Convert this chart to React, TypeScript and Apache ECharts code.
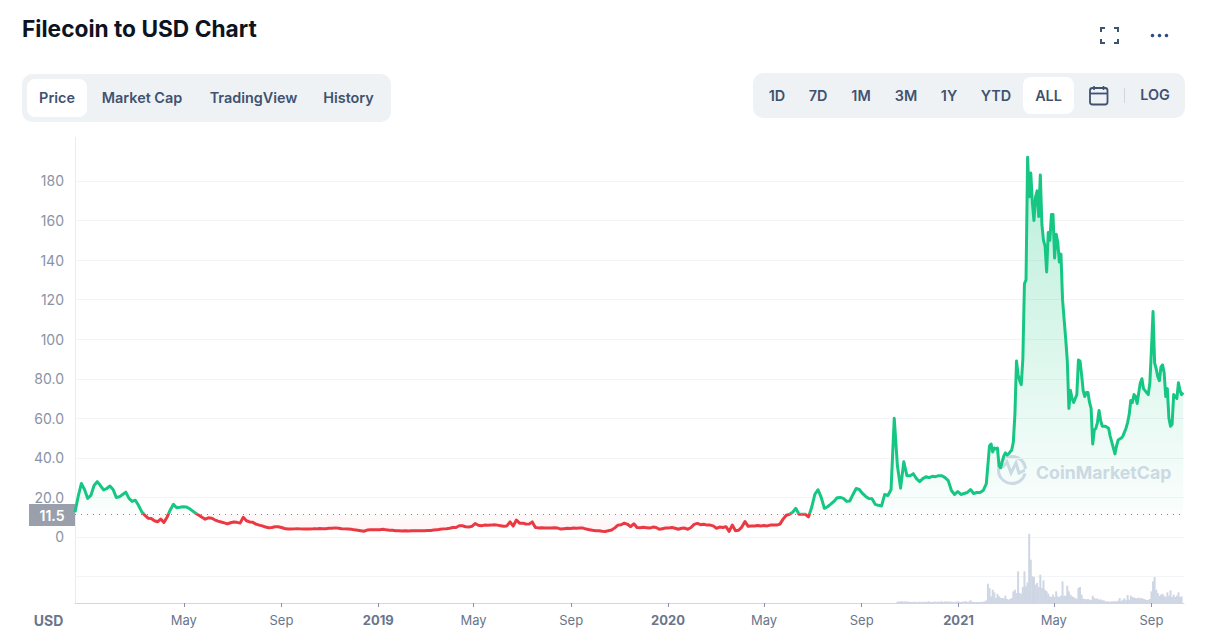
import React, { useEffect, useRef } from "react";
import * as echarts from "echarts";

const title = "Filecoin to USD Chart";
const leftTabs = ["Price", "Market Cap", "TradingView", "History"];
const rightTabs = ["1D", "7D", "1M", "3M", "1Y", "YTD", "ALL"];
const baselineValue = 11.5;
const xTickDates = ["2018-05-01", "2018-09-01", "2019-01-01", "2019-05-01", "2019-09-01", "2020-01-01", "2020-05-01", "2020-09-01", "2021-01-01", "2021-05-01", "2021-09-01"];
const xTickLabels = ["May", "Sep", "{b|2019}", "May", "Sep", "{b|2020}", "May", "Sep", "{b|2021}", "May", "Sep"];
const firstDate = "2017-12-15";
const lastDate = "2021-10-12";
const earlyStepDays = 4;
const lateStepDays = 2;
const lateStartDay = 1152;
const volumeStartDay = 1036;

// Price, every 4 days from the first date
const earlyPrices = [
  12.5, 20.5, 27, 24, 19.5, 21, 26, 28, 26, 23.8,
  24.5, 25.8, 24, 20, 20.3, 21.5, 22.7, 19.5, 18, 18.6,
  16, 12.8, 11, 9.5, 9.3, 8.2, 7.7, 9, 7.4, 10,
  13.7, 16.5, 14.8, 15, 15.3, 15.2, 14.4, 13.2, 12, 11,
  10, 9, 9.7, 9.5, 8.7, 8, 7.6, 7.1, 6.6, 7.2,
  7.6, 7.4, 7, 10, 8.2, 7.6, 7.4, 6.5, 6, 5.6,
  5, 4.7, 4.8, 5.2, 5.2, 4.8, 4.3, 4, 4, 4.1,
  4.2, 4.1, 4, 4.1, 4, 4.1, 4.1, 4.3, 4.2, 4.2,
  4.4, 4.4, 4.6, 4.4, 4.2, 4.1, 4, 3.9, 3.6, 3.4,
  3.2, 2.9, 3.5, 3.6, 3.6, 3.7, 3.7, 3.9, 3.6, 3.4,
  3.4, 3.2, 3.2, 3, 3.1, 3, 3.1, 3.2, 3.1, 3.2,
  3.2, 3.3, 3.3, 3.5, 3.6, 3.9, 4.1, 4.2, 4.4, 4.8,
  4.8, 5.7, 5.7, 5.2, 5, 5.4, 6.8, 5.9, 5.7, 6,
  5.9, 6, 6.2, 6, 5.7, 5.4, 5.6, 7.6, 5.5, 8.6,
  7, 7, 6.6, 6.5, 7.6, 4.8, 4.6, 4.7, 4.5, 4.6,
  4.6, 4.7, 4.5, 4, 4.2, 4.4, 4.3, 4.5, 4.4, 4.5,
  4.5, 4, 3.7, 3.4, 3.2, 3.2, 2.9, 2.8, 3.2, 3.5,
  4.6, 6, 6.2, 7, 6.4, 5.2, 6.7, 4.8, 4.7, 4.9,
  4.7, 4.5, 5, 4.8, 3.9, 4.2, 4.5, 4.6, 4.8, 4.4,
  3.9, 4.4, 4.5, 3.9, 4.8, 6.4, 6.9, 6.2, 6.4, 6,
  6, 5.6, 4.4, 5, 4.8, 5.2, 2.8, 6, 3.2, 3.4,
  5, 7.8, 5.4, 5.6, 5.6, 5.8, 5.6, 5.8, 5.6, 6,
  6, 6, 6.5, 9, 11, 11.5, 12.5, 14.5, 11.5, 11.5,
  11.5, 10.2, 15, 21.6, 23.9, 20, 14.5, 15.3, 16.6, 18,
  19.8, 20, 19.5, 18, 18.2, 21.5, 24.5, 24, 22, 20.5,
  19.5, 19.3, 16.5, 16, 15.7, 21.5, 21, 24, 60, 36,
  24.7, 38, 31, 31, 32, 29.5, 28, 29.5, 30.5, 30,
  30.7, 30.5, 31, 31, 30, 28.5, 23.5, 21.5, 23, 21.5,
  22, 22.5, 24, 22, 22.5, 22.5, 23.5, 27, 46,
];

// Price, every 2 days after the early run
const latePrices = [
  47, 43, 45, 44.5, 45, 36, 35, 38, 41, 42.5,
  41.5, 42, 43, 44, 48, 62, 89, 82, 79, 77,
  90, 128, 130, 192, 172, 184, 169, 160, 172, 175,
  162, 183, 158, 150, 147, 134, 154, 150, 163, 163,
  141, 153, 149, 139, 143, 120, 110, 100, 89, 65,
  74, 70, 68, 70, 72, 89.5, 89, 82, 74, 71,
  73, 73, 68, 65, 47, 54, 55, 58, 64, 59,
  56, 56, 56, 55.5, 55, 51, 48, 45, 42, 46,
  49, 49.5, 50, 51, 53, 55, 58, 62, 69, 68,
  72, 71, 67.5, 73, 78, 80, 75, 74, 73, 72,
  78, 95, 114, 88, 85, 81, 79, 86, 87, 83,
  71, 75, 60, 56, 57, 72, 71, 70, 78, 74,
  72, 73,
];

// Volume (bn USD), every 2 days from day 1036
const volumes = [
  0.4, 0.4, 0.5, 0.5, 0.4, 0.5, 0.4, 0.4, 0.3, 0.3,
  0.3, 0.4, 0.2, 0.3, 0.4, 0.3, 0.3, 0.4, 0.3, 0.4,
  0.5, 0.3, 0.3, 0.4, 0.4, 0.3, 0.4, 0.4, 0.5, 0.3,
  0.5, 0.4, 0.5, 0.4, 0.4, 0.3, 0.3, 0.4, 0.5, 0.4,
  0.3, 0.4, 0.4, 0.6, 0.3, 0.4, 0.8, 0.4, 0.3, 0.3,
  0.3, 0.3, 0.3, 0.3, 0.4, 0.5, 0.8, 5.8, 4.5, 2,
  4, 3.2, 1.5, 2.7, 2, 1.6, 1.5, 1.4, 2.2, 1.2,
  1, 1.2, 1.5, 3.5, 4, 3, 9.5, 3, 2.8, 4.8,
  9.5, 5, 6.2, 20.8, 13, 8, 7.8, 5.5, 6, 4.8,
  8.5, 4.5, 6.8, 4, 3.5, 2.8, 2, 1.8, 2.5, 1.8,
  3.5, 2, 1.8, 2.2, 6.5, 2.2, 2.2, 5.2, 3.5, 2.5,
  2, 1.8, 1.4, 1.3, 4.5, 4.8, 2.5, 1.3, 1.2, 1.1,
  1.2, 1, 0.9, 2.2, 1.6, 1.2, 1.4, 1, 1.1, 0.8,
  0.8, 0.5, 0.5, 0.4, 0.4, 0.5, 0.5, 0.5, 0.5, 0.7,
  1.5, 0.6, 1, 1.4, 0.8, 2.4, 1, 2.2, 1.8, 1.6,
  1.5, 1.4, 1.6, 1.4, 1.5, 1.2, 1.1, 0.9, 0.9, 1.2,
  3.5, 6.5, 7.8, 4, 3, 2.2, 2.5, 2.8, 2.2, 1.8,
  3.2, 2.2, 3.8, 1.8, 2.5, 1.8, 2.2, 3.2, 1.8, 2,
];

const DAY = 86400000;
const t0 = Date.parse(firstDate);
const dayName = (d: number) => new Date(t0 + d * DAY).toISOString().slice(0, 10);
const dayCount = Math.round((Date.parse(lastDate) - t0) / DAY) + 1;
const allDays = Array.from({ length: dayCount }, (_, d) => dayName(d));
const pricePairs = [
  ...earlyPrices.map((v, i) => [dayName(i * earlyStepDays), v]),
  ...latePrices.map((v, i) => [dayName(lateStartDay + (i + 1) * lateStepDays), v]),
];
const volumePairs = volumes.map((v, i) => [dayName(volumeStartDay + i * lateStepDays), v]);

const INK = "#3f5270";
const FONT = "Inter, 'Noto Sans', sans-serif";

function label(text: string, x: number, y: number, extra: any = {}) {
  return {
    type: "text",
    x,
    y,
    style: { text, fontFamily: FONT, fontSize: 14.4, fontWeight: 600, fill: INK, align: "center", verticalAlign: "middle", ...extra },
  };
}

function panels(): any[] {
  const leftX = [57, 142, 253.5, 348.5];
  const rightX = [777, 818, 861, 906, 949, 996, 1048.5];
  return [
    { type: "rect", shape: { x: 22, y: 74, width: 369, height: 48, r: 10 }, style: { fill: "#eff2f5" } },
    { type: "rect", shape: { x: 27, y: 79, width: 60, height: 38, r: 8 }, style: { fill: "#ffffff" } },
    ...leftTabs.map((t, i) => label(t, leftX[i], 97.5)),
    { type: "rect", shape: { x: 753, y: 73, width: 432, height: 45, r: 10 }, style: { fill: "#eff2f5" } },
    { type: "rect", shape: { x: 1023, y: 77, width: 51, height: 37, r: 8 }, style: { fill: "#ffffff" } },
    ...rightTabs.map((t, i) => label(t, rightX[i], 95.5)),
    label("LOG", 1155, 94.5),
    { type: "line", shape: { x1: 1124.5, y1: 88, x2: 1124.5, y2: 103 }, style: { stroke: "#cfd6e4", lineWidth: 1 } },
    { type: "rect", shape: { x: 1090, y: 88, width: 17.5, height: 16.5, r: 2.5 }, style: { fill: "none", stroke: INK, lineWidth: 1.8 } },
    { type: "line", shape: { x1: 1090, y1: 93.5, x2: 1107.5, y2: 93.5 }, style: { stroke: INK, lineWidth: 1.8 } },
    { type: "line", shape: { x1: 1094, y1: 86, x2: 1094, y2: 90 }, style: { stroke: INK, lineWidth: 1.6 } },
    { type: "line", shape: { x1: 1103.5, y1: 86, x2: 1103.5, y2: 90 }, style: { stroke: INK, lineWidth: 1.6 } },
  ];
}

function headerIcons(): any[] {
  const corner = (pts: number[][]) => ({
    type: "polyline",
    shape: { points: pts },
    style: { fill: "none", stroke: INK, lineWidth: 2 },
  });
  return [
    corner([[1101, 32], [1101, 28], [1105, 28]]),
    corner([[1114, 28], [1118, 28], [1118, 32]]),
    corner([[1101, 39], [1101, 43], [1105, 43]]),
    corner([[1114, 43], [1118, 43], [1118, 39]]),
    ...[1152.5, 1159.5, 1166.5].map((cx) => ({
      type: "circle",
      shape: { cx, cy: 35.5, r: 1.8 },
      style: { fill: "#2f4a80" },
    })),
  ];
}

function watermark(): any[] {
  const c = "#d5dae8";
  return [
    {
      type: "arc",
      shape: { cx: 1012, cy: 470, r: 13.5, startAngle: 0.25, endAngle: 6.2 },
      style: { fill: "none", stroke: c, lineWidth: 3 },
    },
    {
      type: "polyline",
      shape: { points: [[1002, 468], [1007, 462], [1011, 473], [1016, 463], [1019, 473], [1025, 470]] },
      style: { fill: "none", stroke: c, lineWidth: 3 },
    },
    {
      type: "text",
      x: 1036,
      y: 472,
      style: { text: "CoinMarketCap", fontFamily: FONT, fontSize: 17.7, fontWeight: 700, fill: c, align: "left", verticalAlign: "middle" },
    },
  ];
}

export default function App() {
  const ref = useRef<HTMLDivElement>(null);

  useEffect(() => {
    const chart = echarts.init(ref.current!, undefined, { renderer: "svg" });
    const showTick = (_: number, value: string) => xTickDates.includes(value);
    chart.setOption({
      animation: false,
      backgroundColor: "#ffffff",
      textStyle: { fontFamily: FONT },
      grid: { left: 75, right: 28, top: 141.4, bottom: 17.9 },
      xAxis: {
        type: "category",
        data: allDays,
        boundaryGap: false,
        offset: -13.1,
        splitLine: { show: false },
        axisLine: { onZero: false, lineStyle: { color: "#cfd6e4", width: 1 } },
        axisTick: { interval: showTick, length: 4, lineStyle: { color: "#8a93a6" } },
        axisLabel: {
          interval: showTick,
          showMinLabel: true,
          showMaxLabel: true,
          margin: 10,
          fontSize: 13,
          fontFamily: FONT,
          color: "#69758c",
          formatter: (value: string) => xTickLabels[xTickDates.indexOf(value)] ?? "",
          rich: { b: { fontSize: 13, fontWeight: 700, fontFamily: FONT, color: "#69758c" } },
        },
      },
      yAxis: [
        {
          type: "value",
          min: -40,
          max: 200,
          interval: 20,
          axisLine: { show: false },
          axisTick: { show: false },
          splitLine: { show: true, showMinLine: false, showMaxLine: false, lineStyle: { color: "#f2f4f7", width: 1 } },
          axisLabel: {
            margin: 11,
            fontSize: 14,
            fontFamily: FONT,
            color: "#8a93a6",
            formatter: (v: number) => (v < 0 || v === 200 ? "" : v === 0 ? "0" : v >= 100 ? String(v) : v.toFixed(1)),
          },
        },
        { type: "value", min: -3.93, max: 138.6, show: false, splitLine: { show: false } },
      ],
      visualMap: {
        show: false,
        seriesIndex: 2,
        dimension: 1,
        pieces: [
          { gte: -1000, lt: baselineValue, color: "#ea3943" },
          { gte: baselineValue, lt: 1000, color: "#16c784" },
        ],
      },
      series: [
        {
          type: "bar",
          yAxisIndex: 1,
          data: volumePairs,
          barWidth: 2,
          itemStyle: { color: "#cfd6e4" },
          silent: true,
        },
        {
          type: "line",
          data: pricePairs,
          showSymbol: false,
          symbol: "none",
          silent: true,
          lineStyle: { width: 0 },
          itemStyle: { color: "#16c784" },
          areaStyle: {
            origin: baselineValue,
            opacity: 1,
            color: {
              type: "linear",
              global: true,
              x: 0,
              y: 158,
              x2: 0,
              y2: 537,
              colorStops: [
                { offset: 0, color: "rgba(22,199,132,0.3)" },
                { offset: 0.939, color: "rgba(22,199,132,0.02)" },
                { offset: 0.94, color: "rgba(234,57,67,0.02)" },
                { offset: 1, color: "rgba(234,57,67,0.07)" },
              ],
            },
          },
          markLine: {
            silent: true,
            symbol: "none",
            animation: false,
            label: { show: false },
            lineStyle: { type: [1, 5], color: "#7f8797", width: 1 },
            data: [{ yAxis: baselineValue }],
          },
        },
        {
          type: "line",
          data: pricePairs,
          showSymbol: false,
          symbol: "none",
          silent: true,
          lineStyle: { width: 3, join: "round" },
        },
      ],
      graphic: [
        {
          type: "text",
          x: 22,
          y: 28,
          style: { text: title, fontFamily: FONT, fontSize: 22.7, fontWeight: 700, fill: "#0d1421", align: "left", verticalAlign: "middle" },
        },
        ...headerIcons(),
        ...panels(),
        { type: "line", shape: { x1: 75.5, y1: 137, x2: 75.5, y2: 603 }, style: { stroke: "#e8ecf3", lineWidth: 1 } },
        { type: "rect", shape: { x: 29, y: 504, width: 46, height: 22 }, style: { fill: "#9a9fac" } },
        label(String(baselineValue), 52, 515.5, { fill: "#ffffff", fontSize: 14 }),
        label("USD", 48.5, 620, { fill: "#69758c", fontSize: 14, fontWeight: 700 }),
        ...watermark(),
      ],
    });
    return () => chart.dispose();
  }, []);

  return <div ref={ref} style={{ position: "fixed", left: 0, top: 0, width: 1212, height: 634 }} />;
}
